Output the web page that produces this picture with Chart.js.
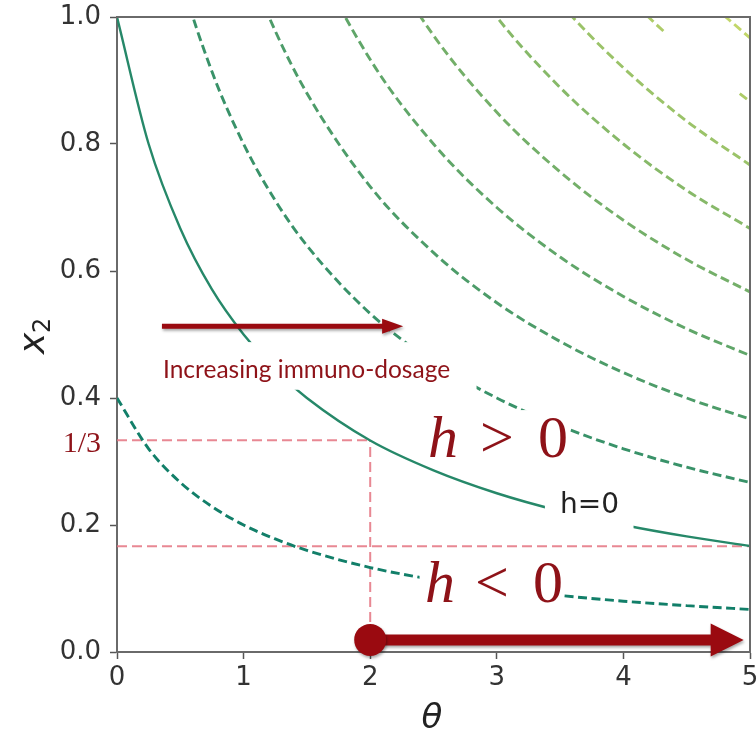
<!DOCTYPE html>
<html>
<head>
<meta charset="utf-8">
<script src="https://cdn.jsdelivr.net/npm/chart.js@4/dist/chart.umd.min.js"></script>
<style>
  html, body { margin: 0; padding: 0; background: #ffffff; }
  #wrap { width: 756px; height: 733px; }
</style>
</head>
<body>
<div id="wrap"><canvas id="c" width="756" height="733"></canvas></div>
<script>
// θ grid shared by all contour lines
const theta = [0, 0.25, 0.5, 0.75, 1, 1.25, 1.5, 2, 2.5, 3, 3.5, 4, 4.5, 5];

// x2 along each contour of h (levels spaced 0.6 apart)
const hNeg06 = [0.400, 0.320, 0.267, 0.229, 0.200, 0.178, 0.160, 0.133, 0.114, 0.100, 0.089, 0.080, 0.073, 0.067];
const hZero  = [1.000, 0.800, 0.667, 0.571, 0.500, 0.444, 0.400, 0.333, 0.286, 0.250, 0.222, 0.200, 0.182, 0.167];
const hPos06 = [1.600, 1.280, 1.067, 0.914, 0.800, 0.711, 0.640, 0.533, 0.457, 0.400, 0.356, 0.320, 0.291, 0.267];
const hPos12 = [2.200, 1.760, 1.467, 1.257, 1.100, 0.978, 0.880, 0.733, 0.629, 0.550, 0.489, 0.440, 0.400, 0.367];
const hPos18 = [2.800, 2.240, 1.867, 1.600, 1.400, 1.244, 1.120, 0.933, 0.800, 0.700, 0.622, 0.560, 0.509, 0.467];
const hPos24 = [3.400, 2.720, 2.267, 1.943, 1.700, 1.511, 1.360, 1.133, 0.971, 0.850, 0.756, 0.680, 0.618, 0.567];
const hPos30 = [4.000, 3.200, 2.667, 2.286, 2.000, 1.778, 1.600, 1.333, 1.143, 1.000, 0.889, 0.800, 0.727, 0.667];
const hPos36 = [4.600, 3.680, 3.067, 2.629, 2.300, 2.044, 1.840, 1.533, 1.314, 1.150, 1.022, 0.920, 0.836, 0.767];
const hPos42 = [5.200, 4.160, 3.467, 2.971, 2.600, 2.311, 2.080, 1.733, 1.486, 1.300, 1.156, 1.040, 0.945, 0.867];
const hPos48 = [5.800, 4.640, 3.867, 3.314, 2.900, 2.578, 2.320, 1.933, 1.657, 1.450, 1.289, 1.160, 1.055, 0.967];

// red guide lines: x2 = 1/3 up to θ = 2, x2 = 1/6 across, and θ = 2
const guideThirdTheta = [0, 2];
const guideThirdX2 = [0.3333, 0.3333];
const guideSixthTheta = [0, 5];
const guideSixthX2 = [0.1667, 0.1667];
const guideVertTheta = [2, 2];
const guideVertX2 = [0, 0.3333];

// axis ticks
const thetaTicks = [0, 1, 2, 3, 4, 5];
const x2Ticks = [0.0, 0.2, 0.4, 0.6, 0.8, 1.0];

const contours = [
  { name: 'h=-0.6', values: hNeg06, solid: false },
  { name: 'h=0',    values: hZero,  solid: true  },
  { name: 'h=0.6',  values: hPos06, solid: false },
  { name: 'h=1.2',  values: hPos12, solid: false },
  { name: 'h=1.8',  values: hPos18, solid: false },
  { name: 'h=2.4',  values: hPos24, solid: false },
  { name: 'h=3.0',  values: hPos30, solid: false },
  { name: 'h=3.6',  values: hPos36, solid: false },
  { name: 'h=4.2',  values: hPos42, solid: false },
  { name: 'h=4.8',  values: hPos48, solid: false }
];

// "summer" colormap: green-teal to yellow, slightly muted
function summer(t) {
  const r = Math.round(255 * t);
  const g = Math.round(128 + 127 * t);
  const b = 102;
  const m = 0.15;
  const mix = v => Math.round(v * (1 - m) + 120 * m);
  return `rgb(${mix(r)},${mix(g)},${mix(b)})`;
}

const RED = '#9a0a10';
const TEXT_RED = '#8e1218';

const datasets = contours.map((c, i) => ({
  label: c.name,
  data: theta.map((t, k) => ({ x: t, y: c.values[k] })),
  borderColor: summer(i * 0.09),
  borderWidth: c.solid ? 2.4 : 2.9,
  borderDash: c.solid ? [] : [9, 4.5],
  pointRadius: 0,
  cubicInterpolationMode: 'monotone',
  fill: false
}));

function guide(label, xs, ys) {
  return {
    label,
    data: xs.map((x, k) => ({ x, y: ys[k] })),
    borderColor: 'rgba(228,115,128,0.85)',
    borderWidth: 2,
    borderDash: [10, 5],
    pointRadius: 0,
    fill: false,
    clip: false
  };
}
datasets.push(guide('x2=1/3', guideThirdTheta, guideThirdX2));
datasets.push(guide('x2=1/6', guideSixthTheta, guideSixthX2));
datasets.push(guide('theta=2', guideVertTheta, guideVertX2));

// white label backgrounds, in data units [θ0, θ1, x2 top, x2 bottom]
const labelBoxes = [
  [0.26, 2.84, 0.488, 0.413],
  [2.43, 3.58, 0.381, 0.306],
  [2.39, 3.52, 0.148, 0.066],
  [3.38, 4.08, 0.263, 0.192],
  [4.33, 4.94, 0.975, 0.882]
];

function drawArrow(ctx, x0, x1, y, halfShaft, headLen, headHalf) {
  ctx.beginPath();
  ctx.moveTo(x0, y - halfShaft);
  ctx.lineTo(x1 - headLen, y - halfShaft);
  ctx.lineTo(x1 - headLen, y - headHalf);
  ctx.lineTo(x1, y);
  ctx.lineTo(x1 - headLen, y + headHalf);
  ctx.lineTo(x1 - headLen, y + halfShaft);
  ctx.lineTo(x0, y + halfShaft);
  ctx.closePath();
  ctx.fill();
}

const overlay = {
  id: 'overlay',
  afterDatasetsDraw(chart) {
    const { ctx, chartArea: a, scales: { x, y } } = chart;
    ctx.save();

    // label backgrounds
    ctx.fillStyle = '#ffffff';
    labelBoxes.forEach(b => {
      const px0 = x.getPixelForValue(b[0]);
      const px1 = x.getPixelForValue(b[1]);
      const py0 = y.getPixelForValue(b[2]);
      const py1 = y.getPixelForValue(b[3]);
      ctx.fillRect(px0, py0, px1 - px0, py1 - py0);
    });

    // top and right frame lines
    ctx.strokeStyle = '#6a6a6a';
    ctx.lineWidth = 2;
    ctx.beginPath();
    ctx.moveTo(a.left, a.top);
    ctx.lineTo(a.right, a.top);
    ctx.lineTo(a.right, a.bottom);
    ctx.stroke();

    // contour label
    ctx.fillStyle = '#222222';
    ctx.font = '28px "DejaVu Sans"';
    ctx.textBaseline = 'alphabetic';
    ctx.textAlign = 'left';
    ctx.fillText('h=0', x.getPixelForValue(3.5), y.getPixelForValue(0.219));

    // arrows
    ctx.fillStyle = RED;
    ctx.shadowColor = 'rgba(0,0,0,0.35)';
    ctx.shadowBlur = 3;
    ctx.shadowOffsetX = 1;
    ctx.shadowOffsetY = 2;
    const ay = y.getPixelForValue(0.513);
    drawArrow(ctx, x.getPixelForValue(0.355), x.getPixelForValue(2.26), ay, 2.5, 21, 7.5);

    const by = y.getPixelForValue(0.019);
    const bx0 = x.getPixelForValue(2);
    drawArrow(ctx, bx0, x.getPixelForValue(4.95), by, 5.5, 33, 16.5);
    ctx.beginPath();
    ctx.arc(bx0, by, 16, 0, Math.PI * 2);
    ctx.fill();
    ctx.shadowColor = 'transparent';

    // annotation text
    ctx.fillStyle = TEXT_RED;
    ctx.font = '24.5px Lato';
    ctx.fillText('Increasing immuno-dosage', 163, 378);

    ctx.font = 'italic 60px "Liberation Serif"';
    ctx.fillText('h', 428, 457);
    ctx.font = '60px "Liberation Serif"';
    ctx.fillText('>', 480, 457);
    ctx.fillText('0', 538, 457);

    ctx.font = 'italic 60px "Liberation Serif"';
    ctx.fillText('h', 425, 602);
    ctx.font = '60px "Liberation Serif"';
    ctx.fillText('<', 475, 602);
    ctx.fillText('0', 533, 602);

    ctx.font = '30px "Liberation Serif"';
    ctx.textAlign = 'right';
    ctx.fillText('1/3', 101, 452);

    ctx.restore();
  },
  afterDraw(chart) {
    const { ctx } = chart;
    ctx.save();
    ctx.fillStyle = '#222222';
    ctx.textAlign = 'center';
    ctx.textBaseline = 'alphabetic';
    ctx.font = 'oblique 34px "DejaVu Sans"';
    ctx.fillText('θ', 432, 728);

    ctx.translate(44, 340);
    ctx.rotate(-Math.PI / 2);
    ctx.textAlign = 'left';
    ctx.font = 'oblique 36px "DejaVu Sans"';
    ctx.fillText('x', -14, 0);
    ctx.font = '24px "DejaVu Sans"';
    ctx.fillText('2', 7, 6);
    ctx.restore();
  }
};

new Chart(document.getElementById('c'), {
  type: 'line',
  data: { datasets },
  options: {
    responsive: false,
    animation: false,
    devicePixelRatio: 1,
    layout: { autoPadding: false, padding: { top: 17, right: 6, left: 0, bottom: 0 } },
    plugins: { legend: { display: false }, tooltip: { enabled: false } },
    scales: {
      x: {
        type: 'linear',
        min: 0, max: 5,
        afterBuildTicks: s => { s.ticks = thetaTicks.map(v => ({ value: v })); },
        afterFit: s => { s.height = 81; s.paddingLeft = 0; s.paddingRight = 0; },
        ticks: {
          color: '#333333',
          font: { family: 'DejaVu Sans', size: 26 },
          padding: 4,
          maxRotation: 0,
          callback: v => String(v)
        },
        grid: { display: true, drawOnChartArea: false, drawTicks: true, tickLength: 7, tickColor: '#555555', tickWidth: 1.5 },
        border: { display: true, color: '#6a6a6a', width: 2 }
      },
      y: {
        type: 'linear',
        min: 0, max: 1,
        afterBuildTicks: s => { s.ticks = x2Ticks.map(v => ({ value: v })); },
        afterFit: s => { s.width = 117; s.paddingTop = 0; s.paddingBottom = 0; },
        ticks: {
          color: '#333333',
          font: { family: 'DejaVu Sans', size: 26 },
          padding: 9,
          callback: v => Number(v).toFixed(1)
        },
        grid: { display: true, drawOnChartArea: false, drawTicks: true, tickLength: 7, tickColor: '#555555', tickWidth: 1.5 },
        border: { display: true, color: '#6a6a6a', width: 2 }
      }
    }
  },
  plugins: [overlay]
});
</script>
</body>
</html>
